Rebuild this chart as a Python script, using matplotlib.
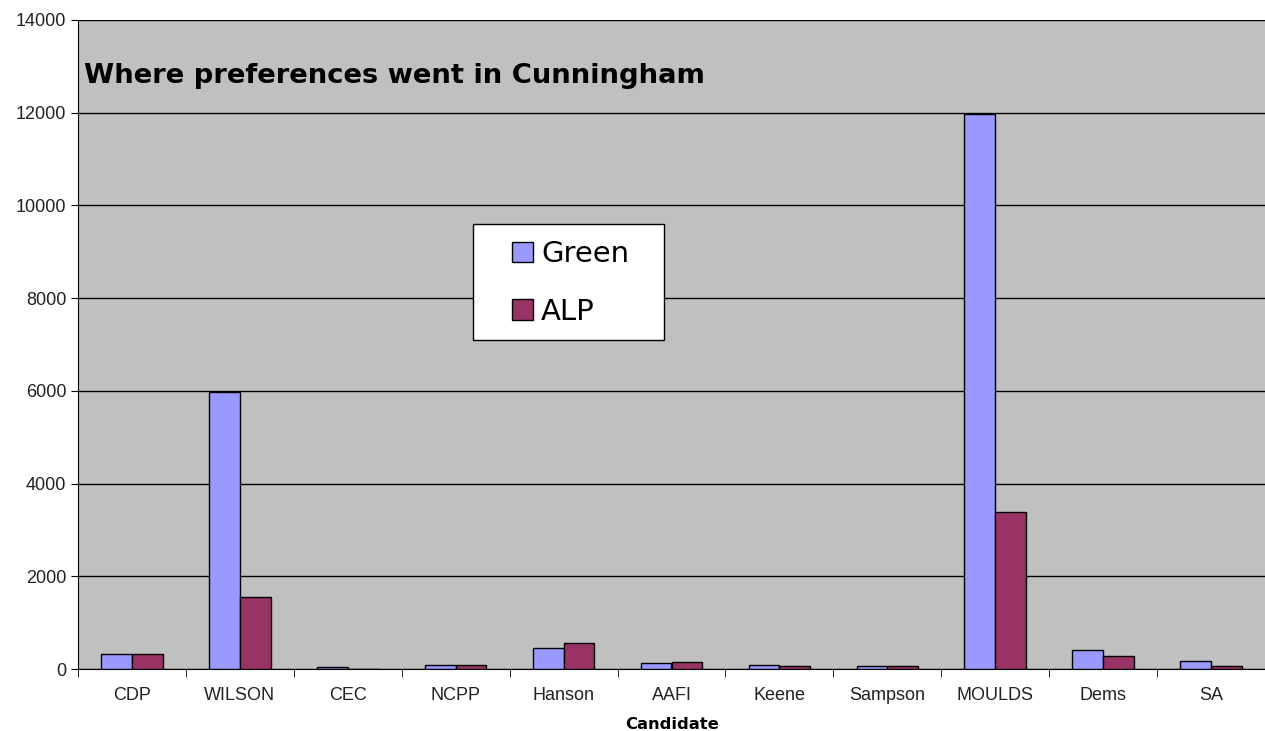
import numpy as np
import matplotlib.pyplot as plt
from matplotlib.patches import Rectangle

# candidates and preference flows
candidates = ["CDP", "WILSON", "CEC", "NCPP", "Hanson", "AAFI", "Keene",
              "Sampson", "MOULDS", "Dems", "SA"]
green = [330, 5980, 40, 90, 450, 120, 90, 60, 11980, 400, 180]
alp = [330, 1560, 0, 85, 570, 150, 60, 55, 3390, 290, 60]

plt.rcParams['font.family'] = ['Liberation Sans', 'DejaVu Sans']

fig = plt.figure(figsize=(12.65, 7.31), dpi=100)
ax = fig.add_axes([78 / 1265, 62 / 731, 1 - 78 / 1265, 649 / 731])
ax.set_facecolor("#C0C0C0")

x = np.arange(len(candidates))
w = 0.285
ax.bar(x - w / 2, green, w, color="#9999FF", edgecolor="black", linewidth=1, label="Green", zorder=3)
ax.bar(x + w / 2, alp, w, color="#993366", edgecolor="black", linewidth=1, label="ALP", zorder=3)

ax.set_xlim(-0.5, len(candidates) - 0.5)
ax.set_ylim(0, 14000)
ax.set_yticks(range(0, 14001, 2000))
ax.grid(axis="y", color="black", linewidth=1, zorder=1)

ax.set_xticks(x)
ax.set_xticklabels(candidates, fontsize=13, color="#222222")
ax.tick_params(axis="x", length=0, pad=13)
ax.set_xticks(np.arange(-0.5, len(candidates), 1), minor=True)
ax.tick_params(axis="x", which="minor", length=6, color="black", direction="out")
ax.tick_params(axis="y", labelsize=13, length=5, color="black", labelcolor="#222222")

for s in ["top", "right"]:
    ax.spines[s].set_visible(False)
ax.spines["left"].set_color("black")
ax.spines["bottom"].set_color("black")

ax.set_xlabel("Candidate", fontsize=11.8, fontweight="bold", family="DejaVu Sans", labelpad=9)

ax.text(0.005, 0.913, "Where preferences went in Cunningham", transform=ax.transAxes,
        fontsize=19.7, fontweight="bold", family="DejaVu Sans", va="center", ha="left")

# legend box drawn separately so the padding can match
ax.add_patch(Rectangle(((473 - 78) / 1187, (669 - 340) / 649), 191 / 1187, 116 / 649,
                       transform=ax.transAxes, facecolor="white", edgecolor="black",
                       linewidth=1, zorder=4))
leg = ax.legend(loc="center left", bbox_to_anchor=((512 - 78) / 1187, (669 - 283) / 649),
                prop={"family": "DejaVu Sans", "size": 21}, frameon=False,
                handlelength=0.72, handleheight=0.7, handletextpad=0.28,
                borderpad=0, labelspacing=1.0, borderaxespad=0)
leg.set_zorder(5)

fig.savefig("out.png", dpi=100)
